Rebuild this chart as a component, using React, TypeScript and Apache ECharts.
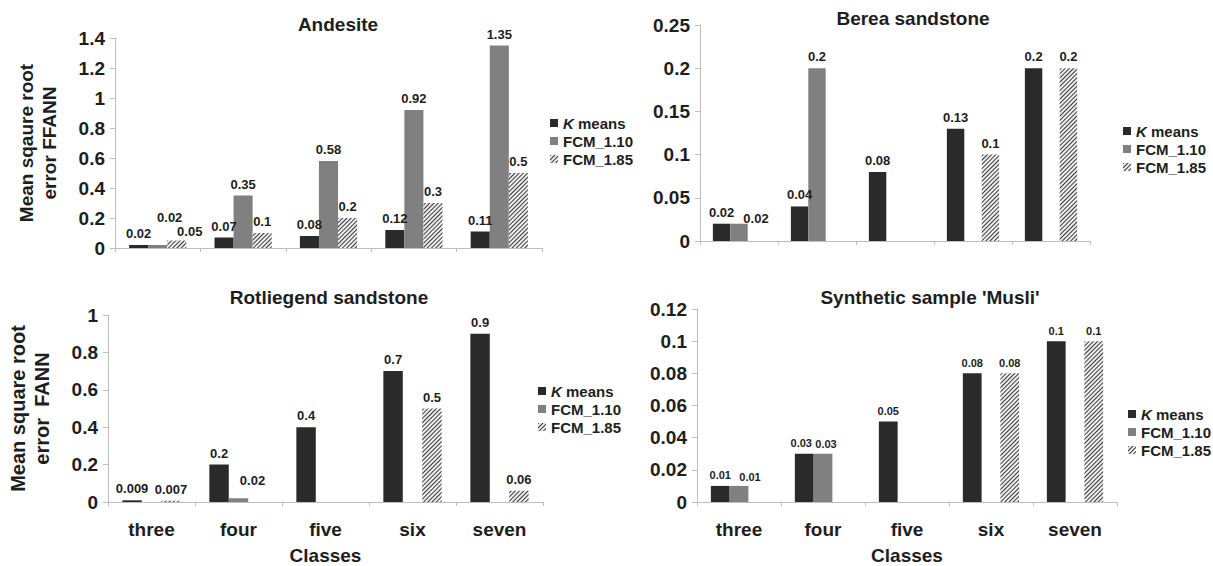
import React, { useEffect, useRef } from "react";
import * as echarts from "echarts";

// Shared categories and series names
const categories = ["three", "four", "five", "six", "seven"];
const seriesNames = ["K means", "FCM_1.10", "FCM_1.85"];

// Andesite
const andesiteKmeans = [0.02, 0.07, 0.08, 0.12, 0.11];
const andesiteFcm110 = [0.02, 0.35, 0.58, 0.92, 1.35];
const andesiteFcm185 = [0.05, 0.1, 0.2, 0.3, 0.5];

// Berea sandstone
const bereaKmeans = [0.02, 0.04, 0.08, 0.13, 0.2];
const bereaFcm110 = [0.02, 0.2, null, null, null];
const bereaFcm185 = [null, null, null, 0.1, 0.2];

// Rotliegend sandstone
const rotliegendKmeans = [0.009, 0.2, 0.4, 0.7, 0.9];
const rotliegendFcm110 = [null, 0.02, null, null, null];
const rotliegendFcm185 = [0.007, null, null, 0.5, 0.06];

// Synthetic sample 'Musli'
const musliKmeans = [0.01, 0.03, 0.05, 0.08, 0.1];
const musliFcm110 = [0.01, 0.03, null, null, null];
const musliFcm185 = [null, null, null, 0.08, 0.1];

// Y axis ranges [max, interval]
const andesiteAxis = [1.4, 0.2];
const bereaAxis = [0.25, 0.05];
const rotliegendAxis = [1, 0.2];
const musliAxis = [0.12, 0.02];

const FONT = "'Liberation Sans', Arial, Helvetica, sans-serif";
const TEXT = "#1e1e1e";
const AXIS = "#bdbdbd";

type Panel = {
  title: string;
  titleX: number;
  titleY: number;
  grid: { left: number; top: number; width: number; height: number };
  axis: number[];
  values: (number | null)[][];
  yName?: string;
  yNameSize?: number;
  showCategories: boolean;
  legend: { left: number; top: number };
  labelSize: number;
  // small hand placements of crowded value labels: [series, category, dx, dy]
  nudges: [number, number, number, number][];
};

const panels: Panel[] = [
  {
    title: "Andesite",
    titleX: 333,
    titleY: 10,
    grid: { left: 115, top: 38, width: 427, height: 210 },
    axis: andesiteAxis,
    values: [andesiteKmeans, andesiteFcm110, andesiteFcm185],
    yName: "Mean sqaure root\nerror FFANN",
    yNameSize: 19,
    showCategories: false,
    legend: { left: 545, top: 110 },
    labelSize: 13,
    nudges: [
      [1, 0, 12, -16],
      [2, 0, 13, 2],
    ],
  },
  {
    title: "Berea sandstone",
    titleX: 908,
    titleY: 4,
    grid: { left: 700, top: 25, width: 390, height: 216 },
    axis: bereaAxis,
    values: [bereaKmeans, bereaFcm110, bereaFcm185],
    showCategories: false,
    legend: { left: 1118, top: 118 },
    labelSize: 13,
    nudges: [[1, 0, 17, 6]],
  },
  {
    title: "Rotliegend sandstone",
    titleX: 324,
    titleY: 283,
    grid: { left: 108, top: 315, width: 435, height: 189 },
    axis: rotliegendAxis,
    values: [rotliegendKmeans, rotliegendFcm110, rotliegendFcm185],
    yName: "Mean square root\nerror  FANN",
    yNameSize: 20,
    showCategories: true,
    legend: { left: 533, top: 378 },
    labelSize: 13,
    nudges: [[1, 1, 14, -6]],
  },
  {
    title: "Synthetic sample 'Musli'",
    titleX: 925,
    titleY: 283,
    grid: { left: 697, top: 309, width: 420, height: 198 },
    axis: musliAxis,
    values: [musliKmeans, musliFcm110, musliFcm185],
    showCategories: true,
    legend: { left: 1123, top: 401 },
    labelSize: 11,
    nudges: [
      [0, 1, -3, 0],
      [1, 0, 11, 2],
      [1, 1, 3, 1],
    ],
  },
];

const seriesStyles = [
  { color: "#2a2a2a" },
  { color: "#808080" },
  {
    color: "#eeeeee",
    decal: {
      symbol: "rect",
      symbolSize: 1,
      dashArrayX: [1, 0],
      dashArrayY: [1, 1.4],
      rotation: -Math.PI / 4,
      color: "#3a3a3a",
    },
  },
];

function buildOption() {
  const title: any[] = [];
  const grid: any[] = [];
  const xAxis: any[] = [];
  const yAxis: any[] = [];
  const legend: any[] = [];
  const series: any[] = [];

  panels.forEach((p, i) => {
    title.push({
      text: p.title,
      left: p.titleX,
      top: p.titleY,
      textAlign: "center",
      textStyle: { fontFamily: FONT, fontWeight: "bold", fontSize: 19, color: TEXT },
    });
    grid.push({ ...p.grid, containLabel: false });
    xAxis.push({
      type: "category",
      gridIndex: i,
      data: categories,
      axisLine: { show: true, lineStyle: { color: AXIS, width: 1 } },
      axisTick: { show: true, length: 4, lineStyle: { color: AXIS } },
      axisLabel: {
        show: p.showCategories,
        margin: 18,
        fontFamily: FONT,
        fontWeight: "bold",
        fontSize: 19,
        color: TEXT,
      },
      name: p.showCategories ? "Classes" : "",
      nameLocation: "middle",
      nameGap: 44,
      nameTextStyle: { fontFamily: FONT, fontWeight: "bold", fontSize: 19, color: TEXT },
    });
    yAxis.push({
      type: "value",
      gridIndex: i,
      min: 0,
      max: p.axis[0],
      interval: p.axis[1],
      splitLine: { show: false },
      axisLine: { show: true, lineStyle: { color: AXIS, width: 1 } },
      axisTick: { show: true, length: 5, lineStyle: { color: AXIS } },
      axisLabel: {
        margin: 10,
        fontFamily: FONT,
        fontWeight: "bold",
        fontSize: 19,
        color: TEXT,
      },
      name: p.yName || "",
      nameLocation: "middle",
      nameGap: 54,
      nameRotate: 90,
      nameTextStyle: {
        fontFamily: FONT,
        fontWeight: "bold",
        fontSize: p.yNameSize || 19,
        color: TEXT,
        lineHeight: (p.yNameSize || 19) + 4,
        align: "center",
      },
    });
    legend.push({
      orient: "vertical",
      left: p.legend.left,
      top: p.legend.top,
      icon: "rect",
      itemWidth: 8,
      itemHeight: 8,
      itemGap: 2,
      data: seriesNames,
      selectedMode: false,
      formatter: (name: string) => (name === "K means" ? "{k|K} means" : name),
      textStyle: {
        fontFamily: FONT,
        fontWeight: "bold",
        fontSize: 15,
        lineHeight: 16,
        color: TEXT,
        rich: {
          k: {
            fontFamily: FONT,
            fontWeight: "bold",
            fontStyle: "italic",
            fontSize: 15,
            color: TEXT,
          },
        },
      },
    });
    p.values.forEach((vals, s) => {
      const data = vals.map((v, c) => {
        const n = p.nudges.find((q) => q[0] === s && q[1] === c);
        if (n && v != null) return { value: v, label: { offset: [n[2], n[3]] } };
        return v;
      });
      series.push({
        type: "bar",
        name: seriesNames[s],
        xAxisIndex: i,
        yAxisIndex: i,
        data,
        barGap: "0%",
        barCategoryGap: "33%",
        itemStyle: seriesStyles[s],
        label: {
          show: true,
          position: "top",
          distance: 5,
          fontFamily: FONT,
          fontWeight: "bold",
          fontSize: p.labelSize,
          color: TEXT,
          formatter: (q: any) => (q.value == null ? "" : String(q.value)),
        },
      });
    });
  });

  return {
    animation: false,
    backgroundColor: "#ffffff",
    title,
    grid,
    xAxis,
    yAxis,
    legend,
    series,
  };
}

export default function App() {
  const ref = useRef<HTMLDivElement>(null);
  useEffect(() => {
    if (!ref.current) return;
    const chart = echarts.init(ref.current, undefined, { renderer: "svg" });
    chart.setOption(buildOption() as any);
    return () => chart.dispose();
  }, []);
  return (
    <div
      ref={ref}
      style={{ position: "absolute", left: 0, top: 0, width: 1213, height: 566, background: "#fff" }}
    />
  );
}
